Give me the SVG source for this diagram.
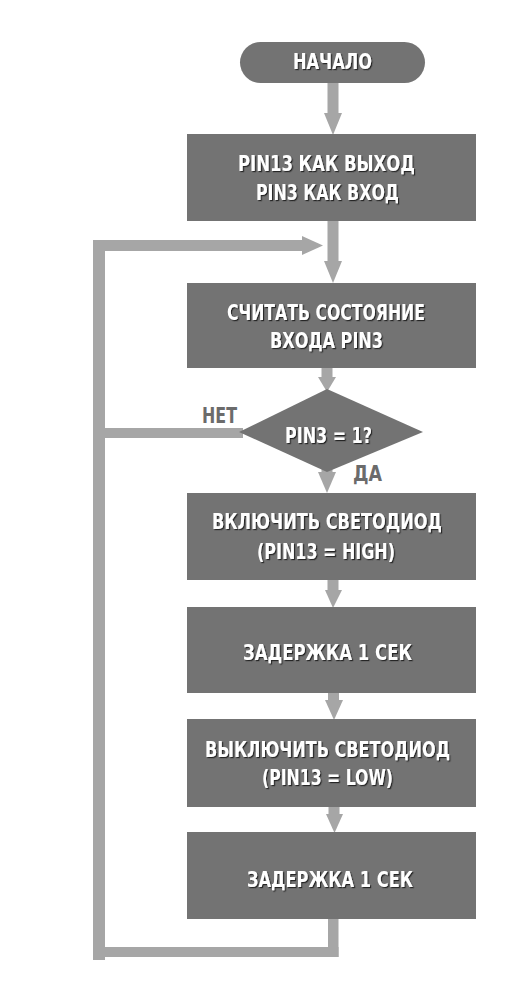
<svg xmlns="http://www.w3.org/2000/svg" width="532" height="994" viewBox="0 0 532 994">
<defs>
<filter id="sh" x="-10%" y="-30%" width="120%" height="160%">
<feDropShadow dx="1.2" dy="1.2" stdDeviation="0.6" flood-color="#1e1e1e" flood-opacity="0.9"/>
</filter>
</defs>
<style>
.box{fill:#737373}
.con{fill:#a6a6a6}
.t{font-family:"Liberation Sans Narrow","DejaVu Sans Condensed","Liberation Sans",sans-serif;font-weight:bold;font-size:21px;fill:#ffffff;text-anchor:middle;filter:url(#sh)}
.lbl{font-family:"Liberation Sans Narrow","DejaVu Sans Condensed","Liberation Sans",sans-serif;font-weight:bold;font-size:21px;fill:#6b6b6b;text-anchor:start}
</style>
<rect width="532" height="994" fill="#ffffff"/>
<g id="connectors">
<rect class="con" x="327.5" y="83" width="11" height="31"/>
<polygon class="con" points="324,113 342,113 333,135"/>
<rect class="con" x="327.5" y="221" width="11" height="41"/>
<polygon class="con" points="324,261 342,261 333,283"/>
<rect class="con" x="93" y="240" width="12" height="720"/>
<rect class="con" x="93" y="240" width="210" height="11"/>
<polygon class="con" points="302,236 302,255 323,245.5"/>
<rect class="con" x="321.5" y="368" width="11" height="10"/>
<polygon class="con" points="318,377 336,377 327,392"/>
<rect class="con" x="93" y="428" width="150" height="10"/>
<rect class="con" x="321.5" y="460" width="11" height="13"/>
<polygon class="con" points="318,472 336,472 327,493"/>
<rect class="con" x="327.5" y="580" width="11" height="11"/>
<polygon class="con" points="325,590 342,590 333,608"/>
<rect class="con" x="328" y="693" width="11" height="8"/>
<polygon class="con" points="325,700 343,700 334,720"/>
<rect class="con" x="328.5" y="807" width="11" height="8"/>
<polygon class="con" points="326,814 343,814 334.5,833"/>
<rect class="con" x="328" y="919" width="10.5" height="38"/>
<rect class="con" x="93" y="947" width="245.5" height="10"/>
<text class="lbl" x="202" y="423" textLength="35" lengthAdjust="spacingAndGlyphs">НЕТ</text>
<text class="lbl" x="353" y="481" textLength="29" lengthAdjust="spacingAndGlyphs">ДА</text>
</g>
<g id="start">
<rect class="box" x="240" y="42" width="185" height="41" rx="20.5"/>
<text class="t" x="332.5" y="69" textLength="79" lengthAdjust="spacingAndGlyphs">НАЧАЛО</text>
</g>
<g id="setup">
<rect class="box" x="187" y="134" width="289" height="87"/>
<text class="t" x="326.5" y="171" textLength="177" lengthAdjust="spacingAndGlyphs">PIN13 КАК ВЫХОД</text>
<text class="t" x="327.5" y="200" textLength="143" lengthAdjust="spacingAndGlyphs">PIN3 КАК ВХОД</text>
</g>
<g id="read">
<rect class="box" x="187" y="283" width="289" height="85"/>
<text class="t" x="326" y="320" textLength="198" lengthAdjust="spacingAndGlyphs">СЧИТАТЬ СОСТОЯНИЕ</text>
<text class="t" x="326.5" y="348" textLength="113" lengthAdjust="spacingAndGlyphs">ВХОДА PIN3</text>
</g>
<g id="decision">
<polygon class="box" points="327,389 423,432 327,472 239,432"/>
<text class="t" x="328.5" y="443" textLength="87" lengthAdjust="spacingAndGlyphs">PIN3 = 1?</text>
</g>
<g id="led-on">
<rect class="box" x="187" y="493" width="289" height="87"/>
<text class="t" x="327" y="529" textLength="230" lengthAdjust="spacingAndGlyphs">ВКЛЮЧИТЬ СВЕТОДИОД</text>
<text class="t" x="326" y="559" textLength="138" lengthAdjust="spacingAndGlyphs">(PIN13 = HIGH)</text>
</g>
<g id="delay1">
<rect class="box" x="187" y="607" width="289" height="86"/>
<text class="t" x="327.5" y="660" textLength="169" lengthAdjust="spacingAndGlyphs">ЗАДЕРЖКА 1 СЕК</text>
</g>
<g id="led-off">
<rect class="box" x="187" y="719" width="289" height="88"/>
<text class="t" x="327.5" y="757" textLength="245" lengthAdjust="spacingAndGlyphs">ВЫКЛЮЧИТЬ СВЕТОДИОД</text>
<text class="t" x="327.5" y="785" textLength="131" lengthAdjust="spacingAndGlyphs">(PIN13 = LOW)</text>
</g>
<g id="delay2">
<rect class="box" x="187" y="832" width="289" height="87"/>
<text class="t" x="330" y="887" textLength="166" lengthAdjust="spacingAndGlyphs">ЗАДЕРЖКА 1 СЕК</text>
</g>
</svg>
